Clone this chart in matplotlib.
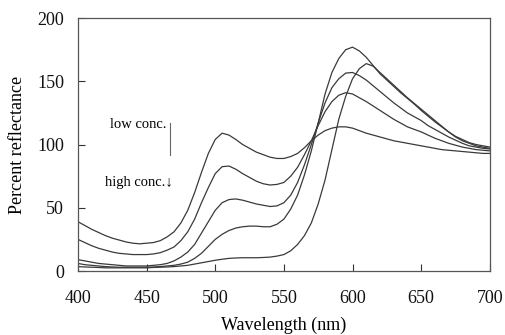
import matplotlib
matplotlib.use("Agg")
import matplotlib.pyplot as plt

plt.rcParams['font.family'] = ['Liberation Serif', 'DejaVu Serif']

wavelength = list(range(400, 705, 5))

conc_1 = [39, 36, 33, 30.5, 28, 26, 24.5, 23, 22, 21.5, 22, 22.5, 24, 27, 31, 38, 48, 62, 78, 93,
          104, 109, 107.5, 104, 100, 97, 94, 92, 90, 89, 89, 90.5, 93, 97.5, 103, 107.5, 111, 113,
          114, 114, 113, 111, 109, 107.5, 106, 104.5, 103, 102, 101, 100, 99, 98, 97, 96, 95.5,
          95, 94.5, 94, 93.5, 93, 93]
conc_2 = [25, 22.5, 20, 18, 16.5, 15, 14, 13.5, 13, 13, 13, 13.5, 14.5, 16.5, 19, 24, 31, 41, 54,
          66, 77, 82.5, 83, 80.5, 77, 74, 71, 69, 68, 68.5, 70, 75, 82, 92, 103, 115, 126, 134,
          139, 141, 140, 137, 134, 130.5, 127, 123.5, 120, 117, 114, 112, 110, 107.5, 105, 103,
          101, 99.5, 98, 97, 96, 95.5, 95]
conc_3 = [9, 8, 7, 6, 5.5, 5, 4.5, 4, 4, 4, 4, 4.5, 5, 6, 8, 11, 15, 21, 30, 39, 48, 54, 56.5,
          57, 56, 54.5, 53, 52, 51, 51.5, 54, 60, 70, 84, 100, 117, 133, 145, 152, 156.5, 157,
          154.5, 151, 146.5, 142, 137.5, 133, 129, 125, 122, 119, 115, 112, 109, 106, 103.5, 101,
          99, 98, 97, 96.5]
conc_4 = [6, 5, 4.5, 4, 3.5, 3.2, 3, 3, 3, 3, 3, 3.2, 3.5, 4, 4.5, 5.5, 7, 10, 14, 19.5, 25, 29,
          32, 34, 35, 35.5, 35.5, 35, 35, 37, 41, 49, 60, 76, 95, 117, 140, 157, 168, 175, 177,
          174, 169, 162.5, 156, 151, 146, 141, 136.5, 132, 127, 122.5, 118, 114, 110, 106, 103,
          101, 99, 98, 97]
conc_5 = [3.5, 3.2, 3, 2.8, 2.5, 2.5, 2.5, 2.5, 2.5, 2.5, 2.5, 2.8, 3, 3.2, 3.5, 4, 4.5, 5.5, 6.5,
          7.5, 8.5, 9.3, 10, 10.3, 10.5, 10.5, 10.5, 10.7, 11, 11.8, 13, 16, 21, 28, 38, 53, 72,
          96, 120, 138, 152, 160, 164, 162, 157, 152, 147, 142, 137, 132.5, 128, 123.5, 119,
          114.5, 110, 106.5, 104, 101.5, 100, 99, 98]

series = [conc_1, conc_2, conc_3, conc_4, conc_5]

fig = plt.figure(figsize=(5.06, 3.35), dpi=100)
ax = fig.add_axes([0.154, 0.191, 0.814, 0.755])

for s in series:
    ax.plot(wavelength, s, color='#3a3a3a', lw=0.9)

ax.set_xlim(400, 700)
ax.set_ylim(0, 200)
ax.set_xticks([400, 450, 500, 550, 600, 650, 700])
ax.set_yticks([0, 50, 100, 150, 200])
ax.tick_params(direction='in', length=5, width=0.8, colors='#333333', labelsize=13,
               labelcolor='#111111')
ax.tick_params(axis='x', pad=14)
ax.tick_params(axis='y', pad=10)
for sp in ax.spines.values():
    sp.set_color('#555555')
    sp.set_linewidth(0.9)

ax.set_xlabel('Wavelength (nm)', fontsize=13, labelpad=6.5)
ax.set_ylabel('Percent reflectance', fontsize=13, labelpad=8)

ax.text(464.5, 115.5, 'low conc.', fontsize=10.5, ha='right', va='center')
ax.plot([467, 467], [92, 117], color='#666666', lw=0.8)
ax.text(469, 70, 'high conc.\u2193', fontsize=10.5, ha='right', va='center')

fig.savefig('out.png', dpi=100)
